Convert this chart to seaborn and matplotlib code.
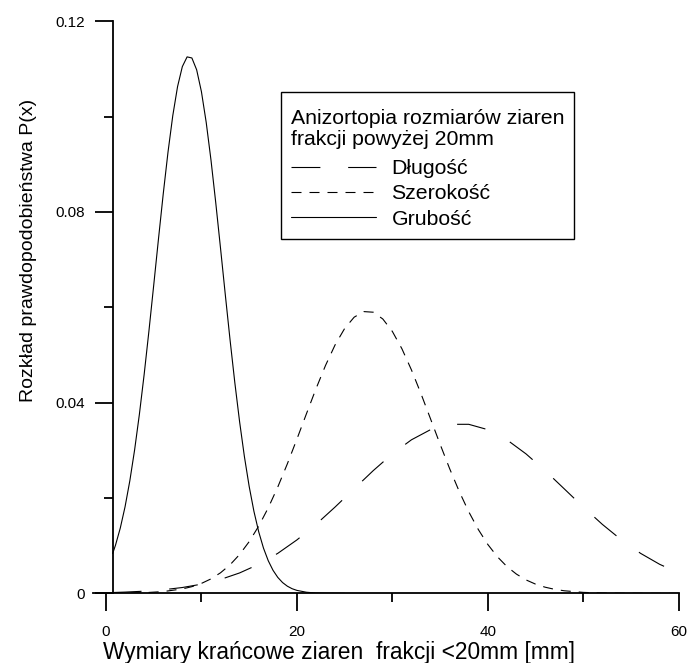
import numpy as np
import pandas as pd
import seaborn as sns
import matplotlib.pyplot as plt
from matplotlib.ticker import MultipleLocator
from matplotlib.offsetbox import VPacker, DrawingArea

# values
grub_x = [0.7, 1.0, 1.5, 2.0, 2.5, 3.0, 3.5, 4.0, 4.5, 5.0, 5.5, 6.0, 6.5, 7.0, 7.5,
          8.0, 8.5, 9.0, 9.5, 10.0, 10.5, 11.0, 11.5, 12.0, 12.5, 13.0, 13.5, 14.0,
          14.5, 15.0, 15.5, 16.0, 16.5, 17.0, 17.5, 18.0, 18.5, 19.0, 19.5, 20.0,
          21.0, 22.0, 23.0, 24.0, 25.0]
grub_y = [0.00836, 0.01012, 0.01370, 0.01817, 0.02362, 0.03009, 0.03755, 0.04591,
          0.05502, 0.06460, 0.07433, 0.08380, 0.09257, 0.10021, 0.10629, 0.11048,
          0.11252, 0.11229, 0.10981, 0.10522, 0.09879, 0.09090, 0.08194, 0.07239,
          0.06266, 0.05315, 0.04417, 0.03598, 0.02871, 0.02245, 0.01720, 0.01292,
          0.00950, 0.00685, 0.00484, 0.00335, 0.00227, 0.00151, 0.00098, 0.00063,
          0.00024, 0.00008, 0.00003, 0.00001, 0.0]

szer_x = [0.7, 2, 4, 6, 8, 9, 10, 11, 12, 13, 14, 15, 16, 17, 18, 19, 20, 21, 22, 23,
          24, 25, 26, 27, 28, 29, 30, 31, 32, 33, 34, 35, 36, 37, 38, 39, 40, 41, 42,
          43, 44, 45, 46, 47, 48, 50, 52, 54, 56, 58, 60]
szer_y = [0.00002, 0.00005, 0.00014, 0.00038, 0.00093, 0.00141, 0.00209, 0.00304,
          0.00432, 0.00600, 0.00816, 0.01085, 0.01411, 0.01794, 0.02232, 0.02717,
          0.03235, 0.03767, 0.04291, 0.04781, 0.05211, 0.05555, 0.05793, 0.05910,
          0.05897, 0.05755, 0.05494, 0.05131, 0.04687, 0.04188, 0.03660, 0.03129,
          0.02617, 0.02141, 0.01713, 0.01341, 0.01026, 0.00769, 0.00563, 0.00404,
          0.00283, 0.00194, 0.00130, 0.00085, 0.00055, 0.00021, 0.00007, 0.00002,
          0.00001, 0.0, 0.0]

dlug_x = [0.7, 2, 4, 6, 8, 10, 12, 14, 16, 18, 20, 22, 24, 26, 28, 30, 32, 34, 36,
          38, 40, 42, 44, 46, 48, 50, 52, 54, 56, 58, 60]
dlug_y = [0.00018, 0.00027, 0.00046, 0.00076, 0.00123, 0.00193, 0.00292, 0.00429,
          0.00610, 0.00840, 0.01121, 0.01447, 0.01811, 0.02194, 0.02575, 0.02926,
          0.03221, 0.03434, 0.03546, 0.03546, 0.03434, 0.03221, 0.02926, 0.02575,
          0.02194, 0.01811, 0.01447, 0.01121, 0.00840, 0.00610, 0.00429]

labels = ["Długość", "Szerokość", "Grubość"]
legend_title = "Anizortopia rozmiarów ziaren\nfrakcji powyżej 20mm"

sns.set_style("ticks")
plt.rcParams['font.family'] = ['Liberation Sans', 'DejaVu Sans']
plt.rcParams['text.color'] = 'black'
plt.rcParams['axes.labelcolor'] = 'black'
plt.rcParams['xtick.color'] = 'black'
plt.rcParams['ytick.color'] = 'black'

fig = plt.figure(figsize=(6.89, 6.63), dpi=100)
ax = fig.add_axes([0.1344, 0.105, 0.8507, 0.863])

lw = 0.8
sns.lineplot(x=dlug_x, y=dlug_y, ax=ax, color='black', lw=lw,
             linestyle=(0, (26, 25)), label=labels[0])
sns.lineplot(x=szer_x, y=szer_y, ax=ax, color='black', lw=lw,
             linestyle=(0, (9, 7.2)), label=labels[1])
sns.lineplot(x=grub_x, y=grub_y, ax=ax, color='black', lw=lw,
             linestyle='-', label=labels[2])

ax.set_xlim(-1.4, 60)
ax.set_ylim(0, 0.12)
ax.spines['left'].set_position(('data', 0.7))
ax.spines['top'].set_visible(False)
ax.spines['right'].set_visible(False)
for s in ['left', 'bottom']:
    ax.spines[s].set_linewidth(1.3)
    ax.spines[s].set_color('black')

ax.set_xticks([0, 20, 40, 60])
ax.set_xticklabels(['0', '20', '40', '60'])
ax.set_yticks([0, 0.04, 0.08, 0.12])
ax.set_yticklabels(['0', '0.04', '0.08', '0.12'])
ax.xaxis.set_minor_locator(MultipleLocator(10))
ax.yaxis.set_minor_locator(MultipleLocator(0.02))
ax.tick_params(which='major', direction='out', length=13, width=1.3,
               labelsize=11, color='black')
ax.tick_params(which='minor', direction='out', length=6.5, width=1.3, color='black')
ax.tick_params(axis='x', which='major', pad=10)
ax.tick_params(axis='y', which='major', pad=7)

ax.set_xlabel("Wymiary krańcowe ziaren  frakcji <20mm [mm]", fontsize=16.4)
ax.set_ylabel("Rozkład prawdopodobieństwa P(x)", fontsize=14)
ax.xaxis.set_label_coords(0.4196, -0.084)
ax.yaxis.set_label_coords(-0.095, 0.6)

leg = ax.legend(title=legend_title, fontsize=15.3, title_fontsize=15.3,
                loc='upper left', bbox_to_anchor=(0.4074, 0.8608),
                bbox_transform=fig.transFigure, borderaxespad=0,
                fancybox=False, framealpha=1, handlelength=4.0,
                handletextpad=0.74, labelspacing=0.3, borderpad=0.47)
leg.get_title().set_linespacing(1.15)
# extra room above the title, as in the original box
title_box = leg._legend_box._children[0]
leg._legend_box._children[0] = VPacker(children=[DrawingArea(1, 5), title_box],
                                       sep=0, pad=0, align='left')
leg._legend_box.sep = 0.45 * 15.3
leg._legend_box.align = "left"
leg.get_frame().set_edgecolor('black')
leg.get_frame().set_linewidth(1.0)

fig.savefig('out.png', dpi=100)
